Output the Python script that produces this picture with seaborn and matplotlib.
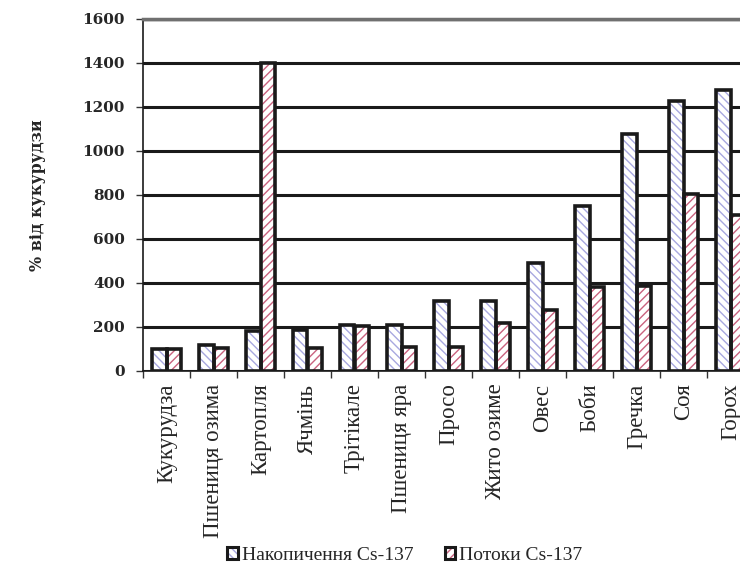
import matplotlib
matplotlib.use("Agg")
import matplotlib.pyplot as plt
import seaborn as sns
import pandas as pd
from matplotlib.patches import Patch, Rectangle
from matplotlib.ticker import FixedLocator

categories = ["Кукурудза", "Пшениця озима", "Картопля", "Ячмінь", "Трітікале",
              "Пшениця яра", "Просо", "Жито озиме", "Овес", "Боби", "Гречка",
              "Соя", "Горох"]
accumulation = [100, 120, 180, 188, 210, 210, 320, 320, 490, 748, 1078, 1228, 1278]
flows = [100, 105, 1400, 105, 205, 108, 108, 220, 278, 380, 388, 805, 708]
series_names = ["Накопичення Cs-137", "Потоки Cs-137"]
y_ticks = [0, 200, 400, 600, 800, 1000, 1200, 1400, 1600]

hatch_colors = ["#a8a8e0", "#c9627f"]
hatches = ["\\\\\\\\", "////"]

df = pd.DataFrame({
    "crop": categories * 2,
    "value": accumulation + flows,
    "series": [series_names[0]] * len(categories) + [series_names[1]] * len(categories),
})

sns.set_style("white")
plt.rcParams["font.family"] = ["Liberation Serif", "DejaVu Serif"]
plt.rcParams["hatch.linewidth"] = 1.0

fig = plt.figure(figsize=(7.4, 5.77), dpi=100)
ax = fig.add_axes([143 / 740, (577 - 371) / 577, 1 - 143 / 740, (371 - 19) / 577])

sns.barplot(data=df, x="crop", y="value", hue="series", order=categories,
            hue_order=series_names, width=0.6, ax=ax, legend=False,
            errorbar=None, gap=0)

for cont, hc, h in zip(ax.containers, hatch_colors, hatches):
    for p in cont:
        p.set_facecolor("white")
        p.set_edgecolor(hc)
        p.set_hatch(h)
        p.set_linewidth(0)
        outline = Rectangle((p.get_x(), p.get_y()), p.get_width(), p.get_height(),
                            facecolor="none", edgecolor="#1a1a1a", linewidth=2.6,
                            zorder=p.get_zorder() + 0.1)
        ax.add_patch(outline)

ax.set_ylim(0, 1600)
ax.set_xlim(-0.5, 12.5 - 14 / 47)
ax.set_yticks(y_ticks)
ax.set_yticklabels([str(v) for v in y_ticks], fontweight="bold", fontsize=11,
                   family=["DejaVu Serif"])
ax.set_axisbelow(True)
ax.yaxis.grid(True, color="#1a1a1a", linewidth=2.2)
gl = ax.get_ygridlines()
gl[-1].set_color("#707070")
gl[-1].set_linewidth(2.5)

ax.set_xlabel("")
ax.set_ylabel("% від кукурудзи", fontweight="bold", fontsize=11.5, labelpad=26,
              family=["DejaVu Serif"])
ax.set_xticks(range(len(categories)))
ax.set_xticklabels(categories, rotation=90, fontsize=16.5)
ax.tick_params(axis="x", which="major", length=0, pad=9)
ax.xaxis.set_minor_locator(FixedLocator([i + 0.5 for i in range(-1, len(categories))]))
ax.tick_params(axis="x", which="minor", length=5, width=1, color="#333333", direction="out")
ax.tick_params(axis="y", which="major", length=5, width=1, color="#333333", direction="out", pad=8)
ax.yaxis.set_ticks_position("left")
ax.xaxis.set_ticks_position("bottom")

ax.spines["right"].set_visible(False)
ax.spines["top"].set_color("#707070")
ax.spines["top"].set_linewidth(2.5)
ax.spines["left"].set_color("#1a1a1a")
ax.spines["left"].set_linewidth(1.2)
ax.spines["bottom"].set_color("#1a1a1a")
ax.spines["bottom"].set_linewidth(1.2)

handles = []
for hc, h in zip(hatch_colors, hatches):
    fillp = Patch(facecolor="white", edgecolor=hc, hatch=h, linewidth=0)
    edgep = Patch(facecolor="none", edgecolor="#1a1a1a", linewidth=2.2)
    handles.append((fillp, edgep))
fig.legend(handles, series_names, loc="lower center", bbox_to_anchor=(405 / 740, -0.008),
           ncol=2, frameon=False, fontsize=14, handlelength=0.55, handleheight=0.55,
           handletextpad=0.2, columnspacing=1.6)

fig.savefig("out.png", dpi=100)
